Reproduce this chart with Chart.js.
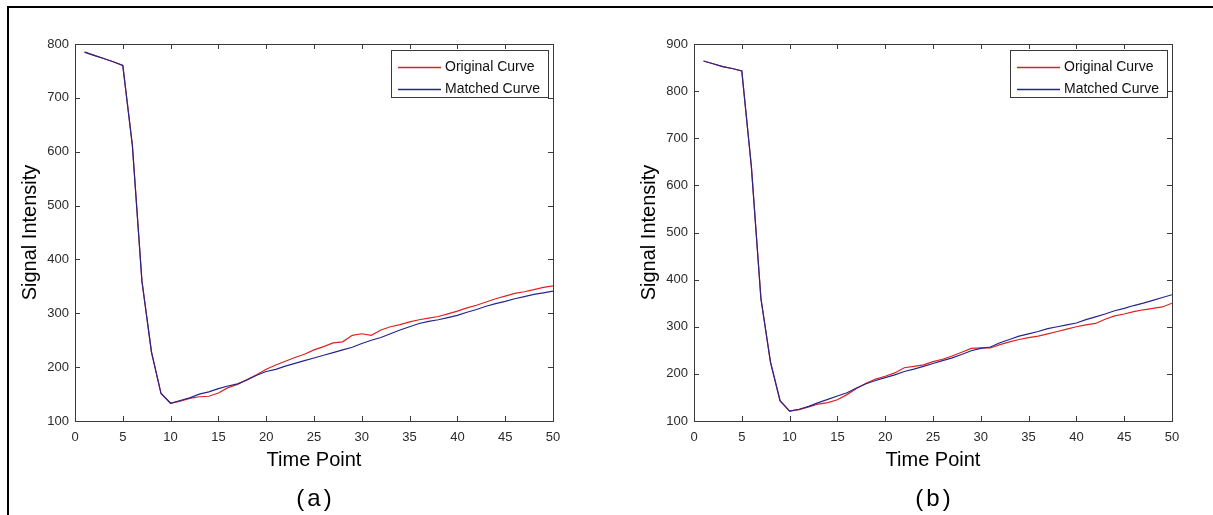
<!DOCTYPE html>
<html><head><meta charset="utf-8">
<script src="https://cdn.jsdelivr.net/npm/chart.js@4.4.0/dist/chart.umd.min.js"></script>
<style>
html,body{margin:0;padding:0;background:#fff;overflow:hidden;width:1213px;height:515px;}
#frame{position:absolute;left:7px;top:6px;width:1240px;height:560px;border-top:2px solid #000;border-left:2px solid #000;}
canvas{position:absolute;top:0;}
#ca{left:0}
#cb{left:619px}
</style></head><body>
<div id="frame"></div>
<canvas id="ca" width="619" height="515"></canvas>
<canvas id="cb" width="594" height="515"></canvas>
<script>
// Time axis (one sample per acquisition)
const timePoints = [1,2,3,4,5,6,7,8,9,10,11,12,13,14,15,16,17,18,19,20,21,22,23,24,25,
  26,27,28,29,30,31,32,33,34,35,36,37,38,39,40,41,42,43,44,45,46,47,48,49,50];

// Panel (a)
const originalA = [785,779,773,767,760,612,360,228,151,133,137,142,145,146,152,162,168,177,186,196,
  204,211,218,224,232,238,245,247,259,262,259,269,275,279,284,288,291,294,299,304,
  310,315,321,327,332,337,340,344,348,351];
const matchedA = [785,779,773,767,760,612,360,228,151,133,138,143,150,154,160,165,169,176,185,192,
  196,202,207,212,217,222,227,232,237,244,250,255,262,269,275,281,285,288,292,296,
  302,307,313,318,322,327,331,335,338,341];

// Panel (b)
const originalB = [864,858,852,848,843,640,360,225,143,121,124,130,136,139,145,156,169,180,189,195,
  202,213,216,219,226,231,238,246,254,255,255,262,268,273,277,280,285,290,295,300,
  304,307,316,323,327,332,336,339,342,350];
const matchedB = [864,858,852,848,843,640,360,225,143,121,125,131,139,146,153,160,170,179,186,192,
  198,205,210,216,222,228,234,241,249,254,257,266,273,280,285,290,296,300,304,308,
  315,321,327,334,339,345,350,356,362,368];

// Tick labels
const xTicks = [0,5,10,15,20,25,30,35,40,45,50];
const yTicksA = [100,200,300,400,500,600,700,800];
const yTicksB = [100,200,300,400,500,600,700,800,900];

const seriesNames = ['Original Curve', 'Matched Curve'];
const RED = '#dd2222';
const BLUE = '#25258e';
const FONT = "'Liberation Sans', Arial, sans-serif";
const AXIS = '#3a3a3a';

// Box frame with inward ticks, axis titles, legend and panel caption
const boxPlugin = {
  id: 'box',
  afterDatasetsDraw(chart, args, opts) {
    const ctx = chart.ctx;
    const a = chart.chartArea;
    const xs = chart.scales.x, ys = chart.scales.y;
    ctx.save();
    ctx.strokeStyle = AXIS;
    ctx.lineWidth = 1;
    ctx.strokeRect(Math.round(a.left) + 0.5, Math.round(a.top) + 0.5,
      Math.round(a.right - a.left), Math.round(a.bottom - a.top));
    const tl = 5;
    ctx.beginPath();
    xs.ticks.forEach(t => {
      const px = Math.round(xs.getPixelForValue(t.value)) + 0.5;
      ctx.moveTo(px, a.bottom); ctx.lineTo(px, a.bottom - tl);
      ctx.moveTo(px, a.top); ctx.lineTo(px, a.top + tl);
    });
    ys.ticks.forEach(t => {
      const py = Math.round(ys.getPixelForValue(t.value)) + 0.5;
      ctx.moveTo(a.left, py); ctx.lineTo(a.left + tl, py);
      ctx.moveTo(a.right, py); ctx.lineTo(a.right - tl, py);
    });
    ctx.stroke();

    // legend
    const lx = a.left + 316, ly = a.top + 6, lw = 157, lh = 47;
    ctx.fillStyle = '#fff';
    ctx.fillRect(lx, ly, lw, lh);
    ctx.strokeStyle = AXIS;
    ctx.strokeRect(lx + 0.5, ly + 0.5, lw, lh);
    const colors = [RED, BLUE];
    ctx.font = '14px ' + FONT;
    ctx.textBaseline = 'middle';
    ctx.textAlign = 'left';
    seriesNames.forEach((name, i) => {
      const yy = ly + 17.5 + i * 22;
      ctx.strokeStyle = colors[i];
      ctx.lineWidth = 1.3;
      ctx.beginPath();
      ctx.moveTo(lx + 7, yy); ctx.lineTo(lx + 50, yy);
      ctx.stroke();
      ctx.fillStyle = '#111';
      ctx.fillText(name, lx + 54, yy);
    });

    // axis titles and caption
    const cx = (a.left + a.right) / 2;
    ctx.fillStyle = '#000';
    ctx.textAlign = 'center';
    ctx.font = '20px ' + FONT;
    ctx.fillText('Time Point', cx, 460);
    ctx.font = '24px ' + FONT;
    ctx.letterSpacing = '3px';
    ctx.fillText(opts.caption, cx + 1.5, 499);
    ctx.letterSpacing = '0px';
    ctx.save();
    ctx.translate(30, (a.top + a.bottom) / 2);
    ctx.rotate(-Math.PI / 2);
    ctx.font = '20px ' + FONT;
    ctx.fillText('Signal Intensity', 0, 0);
    ctx.restore();
    ctx.restore();
  }
};

function makeChart(id, width, original, matched, yTicks, caption) {
  const toPts = arr => timePoints.map((t, i) => ({x: t, y: arr[i]}));
  return new Chart(document.getElementById(id), {
    type: 'line',
    data: {
      datasets: [
        {label: seriesNames[0], data: toPts(original), borderColor: RED, borderWidth: 1.2,
         pointRadius: 0, tension: 0, fill: false, order: 1},
        {label: seriesNames[1], data: toPts(matched), borderColor: BLUE, borderWidth: 1.2,
         pointRadius: 0, tension: 0, fill: false, order: 0}
      ]
    },
    options: {
      responsive: false,
      animation: false,
      events: [],
      layout: {padding: {left: 0, top: 44, right: width - 553, bottom: 0}},
      plugins: {legend: {display: false}, tooltip: {enabled: false}, box: {caption}},
      scales: {
        x: {
          type: 'linear', min: xTicks[0], max: xTicks[xTicks.length - 1],
          grid: {display: false, drawTicks: false},
          border: {display: false},
          afterBuildTicks: s => { s.ticks = xTicks.map(v => ({value: v})); },
          afterFit: s => { s.height = 94; },
          ticks: {color: '#2a2a2a', font: {family: FONT, size: 13}, padding: 9, maxRotation: 0}
        },
        y: {
          type: 'linear', min: yTicks[0], max: yTicks[yTicks.length - 1],
          grid: {display: false, drawTicks: false},
          border: {display: false},
          afterBuildTicks: s => { s.ticks = yTicks.map(v => ({value: v})); },
          afterFit: s => { s.width = 75; },
          ticks: {color: '#2a2a2a', font: {family: FONT, size: 13}, padding: 6}
        }
      }
    },
    plugins: [boxPlugin]
  });
}

makeChart('ca', 619, originalA, matchedA, yTicksA, '(a)');
makeChart('cb', 594, originalB, matchedB, yTicksB, '(b)');
</script>
</body></html>
